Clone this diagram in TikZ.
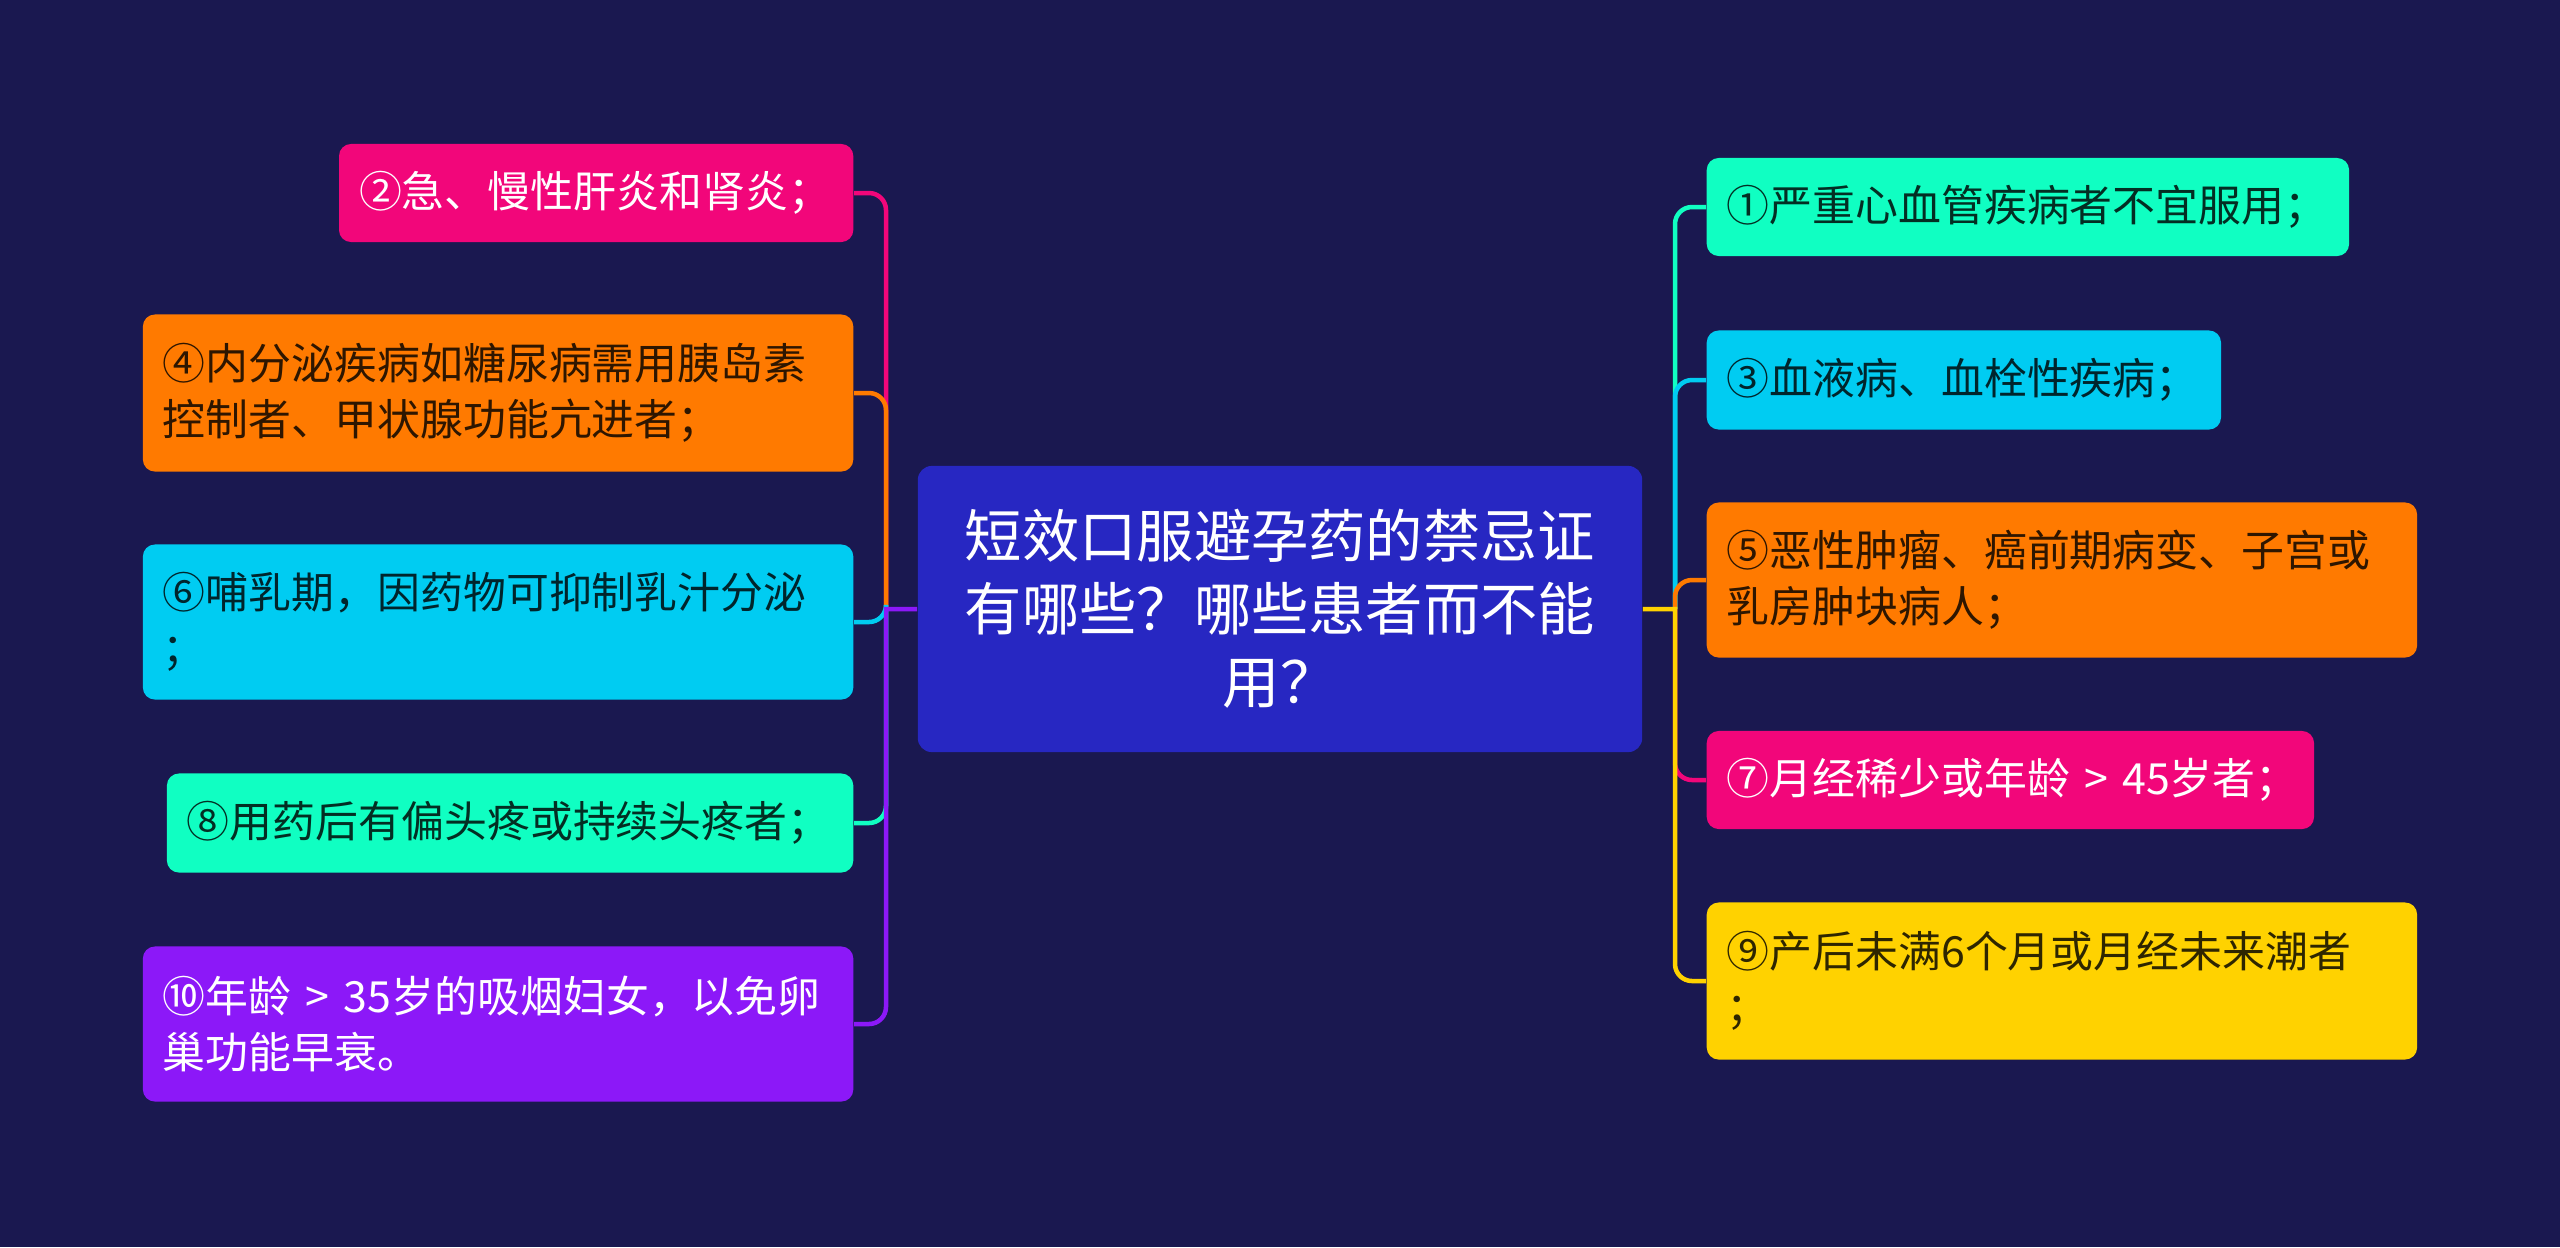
\documentclass[tikz,border=0pt]{standalone}
\usepackage{fontspec}
\setmainfont{Noto Sans CJK SC}
\usepackage{tikz}

\definecolor{bgnavy}{HTML}{1A1850}
\definecolor{rootblue}{HTML}{2727C2}
\definecolor{cpink}{HTML}{F2067A}
\definecolor{corange}{HTML}{FF7A00}
\definecolor{ccyan}{HTML}{00CCF2}
\definecolor{cteal}{HTML}{10FFC2}
\definecolor{cpurple}{HTML}{8C18F8}
\definecolor{cyellow}{HTML}{FFD200}

\begin{document}
\begin{tikzpicture}[x=0.01cm,y=-0.01cm,
	leaf/.style={rounded corners=0.12cm, inner xsep=0.2cm, inner ysep=0pt, align=left,
		font=\fontsize{12.2pt}{15.8pt}\selectfont},
	conn/.style={line width=0.045cm},
	elbow/.style={rounded corners=0.17cm}]

	% Background
	\fill[bgnavy] (0,0) rectangle (2560,1247);

	% Root
	\node[fill=rootblue, rounded corners=0.14cm, text=white, align=center,
		minimum width=7.24cm, minimum height=2.86cm, inner sep=0pt,
		font=\fontsize{16.3pt}{20.7pt}\selectfont]
		(root) at (1280,609) {短效口服避孕药的禁忌证\\有哪些？哪些患者而不能\\用？};

	% Left leaves
	\node[leaf, fill=cpink, text=white, anchor=east, text width=4.74cm, minimum height=0.98cm]
		(n2) at (854,193) {②急、慢性肝炎和肾炎；};
	\node[leaf, fill=corange, text=corange!18!black, anchor=east, text width=6.70cm, minimum height=1.57cm]
		(n4) at (854,393) {④内分泌疾病如糖尿病需用胰岛素\\控制者、甲状腺功能亢进者；};
	\node[leaf, fill=ccyan, text=ccyan!18!black, anchor=east, text width=6.70cm, minimum height=1.55cm]
		(n6) at (854,622) {⑥哺乳期，因药物可抑制乳汁分泌\\；};
	\node[leaf, fill=cteal, text=cteal!18!black, anchor=east, text width=6.46cm, minimum height=0.99cm]
		(n8) at (854,823) {⑧用药后有偏头疼或持续头疼者；};
	\node[leaf, fill=cpurple, text=white, anchor=east, text width=6.70cm, minimum height=1.55cm]
		(n10) at (854,1024) {⑩年龄~>~35岁的吸烟妇女，以免卵\\巢功能早衰。};

	% Right leaves
	\node[leaf, fill=cteal, text=cteal!18!black, anchor=west, text width=6.02cm, minimum height=0.98cm]
		(n1) at (1706,207) {①严重心血管疾病者不宜服用；};
	\node[leaf, fill=ccyan, text=ccyan!18!black, anchor=west, text width=4.74cm, minimum height=0.99cm]
		(n3) at (1706,380) {③血液病、血栓性疾病；};
	\node[leaf, fill=corange, text=corange!18!black, anchor=west, text width=6.70cm, minimum height=1.55cm]
		(n5) at (1706,580) {⑤恶性肿瘤、癌前期病变、子宫或\\乳房肿块病人；};
	\node[leaf, fill=cpink, text=white, anchor=west, text width=5.67cm, minimum height=0.98cm]
		(n7) at (1706,780) {⑦月经稀少或年龄~>~45岁者；};
	\node[leaf, fill=cyellow, text=cyellow!18!black, anchor=west, text width=6.70cm, minimum height=1.57cm]
		(n9) at (1706,981) {⑨产后未满6个月或月经未来潮者\\；};

	% Hubs
	\coordinate (lhub) at (886,609);
	\coordinate (rhub) at (1675,609);

	% Left branches
	\draw[conn, cpink] (lhub) [elbow] |- (n2.east);
	\draw[conn, corange] (lhub) [elbow] |- (n4.east);
	\draw[conn, ccyan] (lhub) [elbow] |- (n6.east);
	\draw[conn, cteal] (lhub) [elbow] |- (n8.east);
	\draw[conn, cpurple] (root.west) -- (lhub) [elbow] |- (n10.east);

	% Right branches
	\draw[conn, cteal] (rhub) [elbow] |- (n1.west);
	\draw[conn, ccyan] (rhub) [elbow] |- (n3.west);
	\draw[conn, corange] (rhub) [elbow] |- (n5.west);
	\draw[conn, cpink] (rhub) [elbow] |- (n7.west);
	\draw[conn, cyellow] (root.east) -- (rhub) [elbow] |- (n9.west);

\end{tikzpicture}
\end{document}
